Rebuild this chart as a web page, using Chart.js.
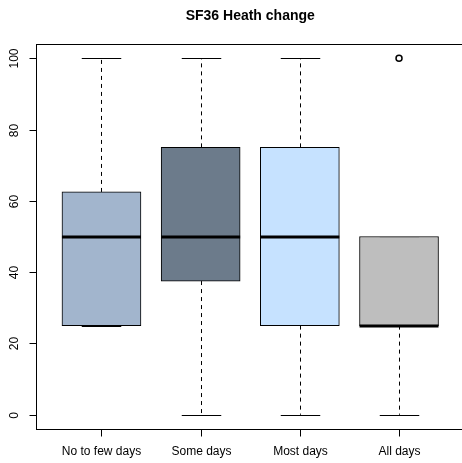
<!DOCTYPE html>
<html>
<head>
<meta charset="utf-8">
<script src="https://cdn.jsdelivr.net/npm/chart.js@4/dist/chart.umd.min.js"></script>
<style>
  html, body { margin: 0; padding: 0; background: #fff; overflow: hidden; }
  canvas { display: block; }
</style>
</head>
<body>
<canvas id="box-chart" width="462" height="463"></canvas>
<script>
// Box plot summary per group
const categories = ['No to few days', 'Some days', 'Most days', 'All days'];
const lowerWhiskers = [25, 0, 0, 0];
const lowerQuartiles = [25, 37.5, 25, 25];
const medians = [50, 50, 50, 25];
const upperQuartiles = [62.5, 75, 75, 50];
const upperWhiskers = [100, 100, 100, 50];
const outliers = [[], [], [], [100]];
const boxColors = ['#A2B5CD', '#6C7B8B', '#C6E2FF', '#BEBEBE'];
const yTicks = [0, 20, 40, 60, 80, 100];
const chartTitle = 'SF36 Heath change';

const FONT = 'Liberation Sans, Arial, Helvetica, sans-serif';
// full x range of the plot region; the canvas shows it up to X_VISIBLE_MAX
const X_MIN = 0.34;
const X_MAX = 4.66;
const X_VISIBLE_MAX = 4.635;

const boxData = categories.map((c, i) => ({ x: i + 1, y: [lowerQuartiles[i], upperQuartiles[i]] }));
const outlierData = [];
outliers.forEach((list, i) => list.forEach(v => outlierData.push({ x: i + 1, y: v })));

function crisp(v) {
    return Math.round(v) + 0.5;
}

// Whiskers, staples, medians, axes and title drawn on top of the scales
const boxplotParts = {
    id: 'boxplotParts',
    beforeDatasetsDraw(chart) {
        const ctx = chart.ctx;
        const xs = chart.scales.x;
        const ys = chart.scales.y;
        const boxW = chart.options.datasets.bar.barThickness;
        ctx.save();
        ctx.strokeStyle = '#000';
        ctx.lineWidth = 1;
        categories.forEach((c, i) => {
            const cx = crisp(xs.getPixelForValue(i + 1));
            const half = boxW / 4;
            // dashed whisker lines
            ctx.setLineDash([4, 4]);
            ctx.beginPath();
            ctx.moveTo(cx, ys.getPixelForValue(upperQuartiles[i]));
            ctx.lineTo(cx, ys.getPixelForValue(upperWhiskers[i]));
            ctx.moveTo(cx, ys.getPixelForValue(lowerQuartiles[i]));
            ctx.lineTo(cx, ys.getPixelForValue(lowerWhiskers[i]));
            ctx.stroke();
            // staples
            ctx.setLineDash([]);
            ctx.beginPath();
            const yTop = crisp(ys.getPixelForValue(upperWhiskers[i]));
            const yBot = crisp(ys.getPixelForValue(lowerWhiskers[i]));
            ctx.moveTo(cx - half, yTop);
            ctx.lineTo(cx + half, yTop);
            ctx.moveTo(cx - half, yBot);
            ctx.lineTo(cx + half, yBot);
            ctx.stroke();
        });
        ctx.restore();
    },
    afterDatasetsDraw(chart) {
        const ctx = chart.ctx;
        const xs = chart.scales.x;
        const ys = chart.scales.y;
        const boxW = chart.options.datasets.bar.barThickness;
        ctx.save();
        ctx.strokeStyle = '#000';
        ctx.lineWidth = 3;
        categories.forEach((c, i) => {
            const cx = xs.getPixelForValue(i + 1);
            const y = Math.round(ys.getPixelForValue(medians[i]));
            ctx.beginPath();
            ctx.moveTo(cx - boxW / 2, y);
            ctx.lineTo(cx + boxW / 2, y);
            ctx.stroke();
        });
        ctx.restore();
    },
    afterDraw(chart) {
        const ctx = chart.ctx;
        const area = chart.chartArea;
        const xs = chart.scales.x;
        const ys = chart.scales.y;
        const frameRight = xs.getPixelForValue(X_MAX);
        ctx.save();
        ctx.strokeStyle = '#000';
        ctx.lineWidth = 1;

        // plot frame (right side runs past the canvas edge)
        ctx.strokeRect(crisp(area.left), crisp(area.top),
            Math.round(frameRight - area.left), Math.round(area.bottom - area.top));

        // y axis ticks and rotated labels
        ctx.fillStyle = '#000';
        ctx.font = '12px ' + FONT;
        ctx.textAlign = 'center';
        ctx.textBaseline = 'middle';
        const ax = crisp(area.left);
        yTicks.forEach(v => {
            const y = crisp(ys.getPixelForValue(v));
            ctx.beginPath();
            ctx.moveTo(ax - 7, y);
            ctx.lineTo(ax, y);
            ctx.stroke();
            ctx.save();
            ctx.translate(15, y);
            ctx.rotate(-Math.PI / 2);
            ctx.fillText(String(v), 0, 0);
            ctx.restore();
        });

        // x axis ticks and labels
        const ay = crisp(area.bottom);
        categories.forEach((c, i) => {
            const x = crisp(xs.getPixelForValue(i + 1));
            ctx.beginPath();
            ctx.moveTo(x, ay);
            ctx.lineTo(x, ay + 7);
            ctx.stroke();
            ctx.fillText(c, x, 452);
        });

        // title centred over the plot region
        ctx.font = 'bold 14px ' + FONT;
        ctx.fillText(chartTitle, (area.left + frameRight) / 2, 16);
        ctx.restore();
    }
};

new Chart(document.getElementById('box-chart'), {
    data: {
        datasets: [
            {
                type: 'bar',
                data: boxData,
                backgroundColor: boxColors,
                borderColor: '#000',
                borderWidth: 1,
                borderSkipped: false
            },
            {
                type: 'scatter',
                data: outlierData,
                pointStyle: 'circle',
                pointRadius: 3,
                pointBorderWidth: 1.5,
                pointBackgroundColor: '#fff',
                pointBorderColor: '#000'
            }
        ]
    },
    options: {
        responsive: false,
        animation: false,
        layout: { autoPadding: false, padding: { left: 36, right: 0, top: 44, bottom: 34 } },
        datasets: {
            bar: { barThickness: 79, grouped: false }
        },
        scales: {
            x: { type: 'linear', min: X_MIN, max: X_VISIBLE_MAX, offset: false, display: false },
            y: { type: 'linear', min: -4, max: 104, display: false }
        },
        plugins: {
            legend: { display: false },
            tooltip: { enabled: false },
            title: { display: false }
        }
    },
    plugins: [boxplotParts]
});
</script>
</body>
</html>
